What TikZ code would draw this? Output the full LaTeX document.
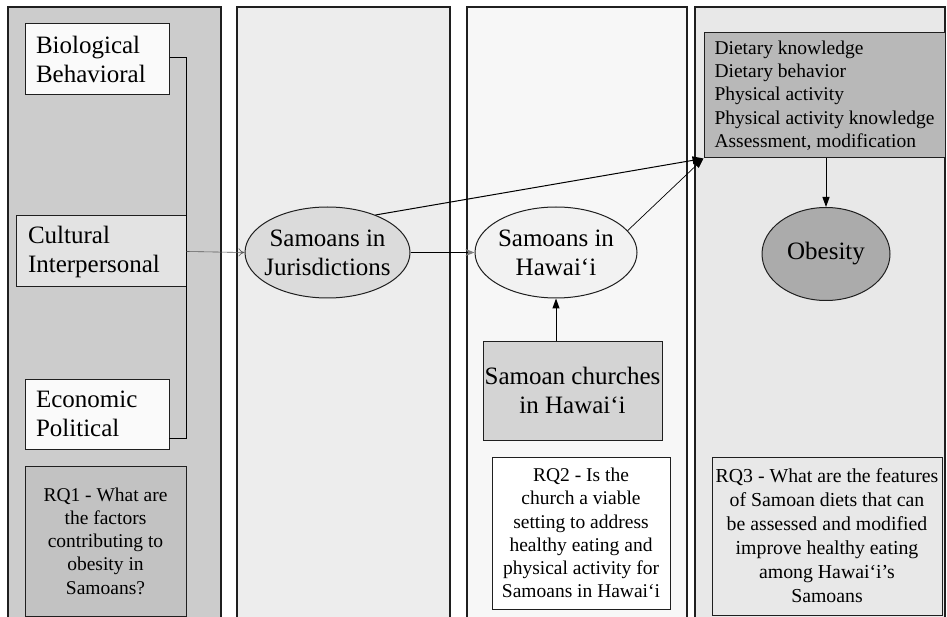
\documentclass[tikz,border=0pt]{standalone}
\usepackage{fontspec}
\setmainfont{Liberation Serif}
\usetikzlibrary{shapes.geometric,arrows.meta}
\definecolor{pone}{gray}{0.80}
\definecolor{ptwo}{gray}{0.93}
\definecolor{pthree}{gray}{0.97}
\definecolor{pfour}{gray}{0.91}
\definecolor{dietc}{gray}{0.72}
\definecolor{obesc}{gray}{0.67}
\definecolor{jurc}{gray}{0.86}
\definecolor{hawc}{gray}{0.95}
\definecolor{churc}{gray}{0.83}
\definecolor{rqonec}{gray}{0.76}
\definecolor{rqthreec}{gray}{0.91}
\definecolor{cultc}{gray}{0.89}
\definecolor{whitec}{gray}{0.98}
\definecolor{linec}{gray}{0.12}
\begin{document}
\begin{tikzpicture}[x=1pt,y=-1pt,
  panel/.style={draw=linec, line width=1.3pt},
  box/.style={draw=linec, line width=1pt, rectangle, inner sep=0pt},
  big/.style={font=\fontsize{25}{29}\selectfont},
  small/.style={font=\fontsize{19.5}{23.3}\selectfont},
  oval/.style={draw=linec, line width=1pt, ellipse, inner sep=0pt},
  txt/.style={inner sep=0pt},
  con/.style={line width=1pt, draw=black},
  thincon/.style={line width=0.7pt, draw=black},
]
\useasboundingbox (0,0) rectangle (947,617);
\clip (0,0) rectangle (947,617);
\fill[white] (0,0) rectangle (947,617);
% panels
\draw[panel, fill=pone] (8,7) rectangle (221,630);
\draw[panel, fill=ptwo] (237,7) rectangle (450,630);
\draw[panel, fill=pthree] (467,7) rectangle (687,630);
\draw[panel, fill=pfour] (695,7) rectangle (945,630);

% left column boxes
\node[box, fill=whitec, minimum width=144pt, minimum height=71pt, text width=122pt, align=left, big] (bio) at (97,59.5) {Biological\\Behavioral};
\node[box, fill=cultc, minimum width=170pt, minimum height=71pt, text width=146pt, align=left, big] (cult) at (101,251.5) {Cultural\\Interpersonal};
\node[box, fill=whitec, minimum width=144pt, minimum height=70pt, text width=122pt, align=left, big] (econ) at (97,414) {Economic\\Political};
\node[box, fill=rqonec, minimum width=161pt, minimum height=150pt, align=center, small] (rqone) at (105.5,541) {RQ1 - What are\\the factors\\contributing to\\obesity in\\Samoans?};
\coordinate (bk) at (169,438);
\draw[con] (bio.east |- 0,58) -- (cult.east |- 0,58) -- (cult.east |- bk) -- (bk);

% ellipses
\node[oval, fill=jurc, minimum width=165pt, minimum height=91pt] (jur) at (327.5,252.5) {};
\node[txt, big, align=center] (jurt) at (jur.center) {Samoans in\\Jurisdictions};
\node[oval, fill=hawc, minimum width=162pt, minimum height=91pt] (haw) at (556,252.5) {};
\node[txt, big, align=center] (hawt) at (haw.center) {Samoans in\\Hawai‘i};

% churches and RQ2
\node[box, fill=churc, minimum width=179pt, minimum height=99pt, align=center, big] (chur) at (572.5,390.5) {Samoan churches\\in Hawai‘i};
\node[box, fill=white, minimum width=178pt, minimum height=152pt, align=center, small] (rqtwo) at (581,533) {RQ2 - Is the\\church a viable\\setting to address\\healthy eating and\\physical activity for\\Samoans in Hawai‘i};

% right column
\node[box, fill=dietc, minimum width=241pt, minimum height=125pt, align=left, small] (diet) at (824.5,95.5) {Dietary knowledge\\Dietary behavior\\Physical activity\\Physical activity knowledge\\Assessment, modification};
\node[oval, fill=obesc, minimum width=128pt, minimum height=93pt] (obes) at (826,254) {};
\node[txt, big] (obest) at (obes.center) {Obesity};
\node[box, fill=rqthreec, minimum width=230pt, minimum height=158pt, align=center, font=\fontsize{19.8}{24}\selectfont] (rqthree) at (827,536) {RQ3 - What are the features\\of Samoan diets that can\\be assessed and modified\\improve healthy eating\\among Hawai‘i’s\\Samoans};

% connectors
\draw[line width=0.6pt, draw=gray!70!black, -{To[length=6pt,width=8pt]}] (cult.east) -- (jur.west);
\draw[con, -{Stealth[length=9pt,width=7pt,color=gray,fill=gray]}] (jur.east) -- (haw.west);
\draw[con, -{Triangle[length=11pt,width=8pt]}] (jur.38) -- (diet.south west);
\draw[thincon, -{Triangle[length=10pt,width=7pt]}] (haw.17) -- (diet.south west);
\draw[con, -{Triangle[length=10pt,width=7pt]}] (obes.north |- diet.south) -- (obes.north);
\draw[con, -{Triangle[length=10pt,width=7pt]}] (chur.north -| haw.south) -- (haw.south);
\end{tikzpicture}
\end{document}
